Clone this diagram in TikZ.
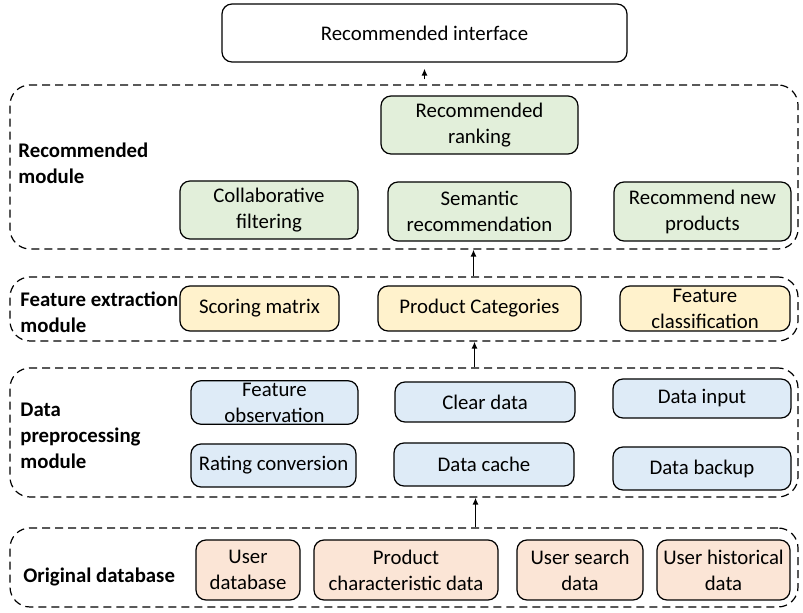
\documentclass[tikz,border=0pt]{standalone}
\usepackage{fontspec}
\setmainfont{Carlito}
\usepackage{tikz}
\usetikzlibrary{positioning,arrows.meta}

\definecolor{recgreen}{HTML}{E2EFDA}
\definecolor{featyellow}{HTML}{FFF2CC}
\definecolor{prepblue}{HTML}{DEEBF7}
\definecolor{origpeach}{HTML}{FBE5D6}

\begin{document}
\begin{tikzpicture}[x=0.5pt, y=-0.5pt,
    every node/.style={font=\fontsize{10.4}{13}\selectfont},
    box/.style={draw, line width=0.6pt, rounded corners=5pt, align=center, inner sep=1pt},
    modbox/.style={draw, line width=0.6pt, dash pattern=on 4pt off 2.5pt, rounded corners=10pt, minimum width=394pt},
    modlabel/.style={anchor=west, align=left, inner sep=0pt, font=\fontsize{10.4}{13}\selectfont\bfseries},
    arr/.style={-{Latex[length=3.5pt,width=3pt]}, line width=0.7pt}]
\useasboundingbox (0,0) rectangle (803,613);

% dashed module frames
\node[modbox, minimum height=82pt] (recm) at (404,167) {};
\node[modbox, minimum height=32pt] (featm) at (404,309) {};
\node[modbox, minimum height=64.5pt] (prepm) at (404,432.5) {};
\node[modbox, minimum height=39.5pt] (origm) at (404,567.5) {};

% module labels
\node[modlabel] (reclabel) at (18,163) {Recommended\\module};
\node[modlabel] (featlabel) at (20,312) {Feature extraction\\module};
\node[modlabel] (preplabel) at (20,436) {Data\\preprocessing\\module};
\node[modlabel] (origlabel) at (23,577) {Original database};

% top
\node[box, fill=white, minimum width=202.5pt, minimum height=29pt] (iface) at (424.5,33) {Recommended interface};

% recommended module
\node[box, fill=recgreen, minimum width=98.5pt, minimum height=29pt] (rank) at (479.5,125) {Recommended\\ranking};
\node[box, fill=recgreen, minimum width=89pt, minimum height=29pt] (collab) at (269,210) {Collaborative\\filtering};
\node[box, fill=recgreen, minimum width=91.5pt, minimum height=29.5pt] (seman) at (479.5,211.5) {Semantic\\recommendation};
\node[box, fill=recgreen, minimum width=88.5pt, minimum height=29.5pt] (newprod) at (702.5,211.5) {Recommend new\\products};

% feature extraction module
\node[box, fill=featyellow, minimum width=79.5pt, minimum height=22.5pt] (scoring) at (259.5,308.5) {Scoring matrix};
\node[box, fill=featyellow, minimum width=101.5pt, minimum height=22.5pt] (categ) at (479.5,308.5) {Product Categories};
\node[box, fill=featyellow, minimum width=85pt, minimum height=22.5pt] (featcls) at (705,308.5) {Feature\\classification};

% data preprocessing module
\node[box, fill=prepblue, minimum width=83.5pt, minimum height=20.5pt] (featobs) at (274.5,402.5) {Feature\\observation};
\node[box, fill=prepblue, minimum width=90pt, minimum height=20pt] (clear) at (485,402) {Clear data};
\node[box, fill=prepblue, minimum width=89pt, minimum height=19.5pt] (input) at (702,398.5) {Data input};
\node[box, fill=prepblue, minimum width=82.5pt, minimum height=21.5pt] (rating) at (273.5,465.5) {Rating conversion};
\node[box, fill=prepblue, minimum width=90pt, minimum height=21.5pt] (cache) at (484,464.5) {Data cache};
\node[box, fill=prepblue, minimum width=89pt, minimum height=21.5pt] (backup) at (702,468.5) {Data backup};

% original database
\node[box, fill=origpeach, minimum width=52pt, minimum height=30pt] (userdb) at (248,570) {User\\database};
\node[box, fill=origpeach, minimum width=92pt, minimum height=30pt] (prodchar) at (406,570) {Product\\characteristic data};
\node[box, fill=origpeach, minimum width=63pt, minimum height=30pt] (search) at (580,570) {User search\\data};
\node[box, fill=origpeach, minimum width=66.5pt, minimum height=30pt] (hist) at (723.5,570) {User historical\\data};

% flow between modules
\draw[arr] ([yshift=2.5pt]recm.north -| iface.south) -- ([yshift=-3pt]iface.south);
\draw[arr] ([xshift=-3pt]featm.north -| categ) -- ([xshift=-3pt]recm.south -| categ);
\draw[arr] ([xshift=-2.5pt]prepm.north -| categ) -- ([xshift=-2.5pt]featm.south -| categ);
\draw[arr] ([xshift=-2pt]origm.north -| categ) -- ([xshift=-2pt]prepm.south -| categ);
\end{tikzpicture}
\end{document}
